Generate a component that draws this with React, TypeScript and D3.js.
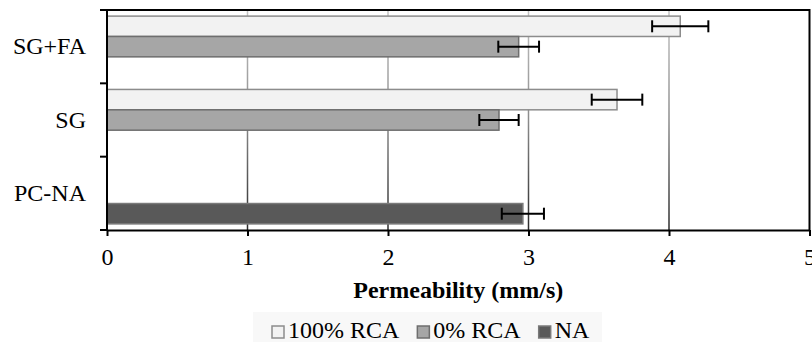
import { useEffect, useRef } from "react";
import * as d3 from "d3";

const W = 812, H = 342;
const M = { top: 10, right: 3, bottom: 112, left: 107 };
const X0 = M.left, X1 = 809.5, Y0 = M.top, Y1 = 230;
const FONT = "'Liberation Serif', 'Times New Roman', serif";
const FS = 24;

const CATEGORIES = ["SG+FA", "SG", "PC-NA"];
const SERIES = ["100% RCA", "0% RCA", "NA"];
// values per category, order as SERIES (null = no bar)
const VALUES: (number | null)[][] = [
  [4.08, 2.93, null],
  [3.63, 2.79, null],
  [null, null, 2.96],
];
const ERRORS: (number | null)[][] = [
  [0.2, 0.145, null],
  [0.18, 0.14, null],
  [null, null, 0.15],
];
const X_TICKS = [0, 1, 2, 3, 4, 5];
const FILLS = ["#f2f2f2", "#a6a6a6", "#595959"];
const STROKES = ["#8c8c8c", "#6e6e6e", "#7a7a7a"];

export default function App() {
  const ref = useRef<SVGSVGElement>(null);

  useEffect(() => {
    const svg = d3.select(ref.current);
    svg.selectAll("*").remove();

    const x = d3.scaleLinear().domain([0, 5]).range([X0, X1]);
    const y = d3.scaleBand<string>().domain(CATEGORIES).range([Y0, Y1]).paddingInner(0).paddingOuter(0);
    const ys = d3.scaleBand<string>().domain(SERIES).range([0, y.bandwidth()]).paddingInner(0).paddingOuter(0.3);

    const defs = svg.append("defs");
    const grad = defs.append("linearGradient").attr("id", "gridGrad")
      .attr("gradientUnits", "userSpaceOnUse")
      .attr("x1", 0).attr("y1", Y0).attr("x2", 0).attr("y2", Y1);
    grad.append("stop").attr("offset", "0%").attr("stop-color", "#c4c4c4");
    grad.append("stop").attr("offset", "50%").attr("stop-color", "#8c8c8c");
    grad.append("stop").attr("offset", "100%").attr("stop-color", "#2a2a2a");

    // gridlines
    svg.append("g").selectAll("line").data(X_TICKS.slice(1, -1)).join("line")
      .attr("x1", d => x(d)).attr("x2", d => x(d))
      .attr("y1", Y0).attr("y2", Y1)
      .attr("stroke", "url(#gridGrad)").attr("stroke-width", 1.5);

    // bars
    const rows = CATEGORIES.flatMap((c, ci) => SERIES.map((s, si) => ({
      c, s, si, v: VALUES[ci][si], e: ERRORS[ci][si],
    }))).filter(d => d.v != null) as { c: string; s: string; si: number; v: number; e: number }[];

    svg.append("g").selectAll("rect").data(rows).join("rect")
      .attr("x", x(0)).attr("y", d => y(d.c)! + ys(d.s)!)
      .attr("width", d => x(d.v) - x(0)).attr("height", ys.bandwidth())
      .attr("fill", d => FILLS[d.si]).attr("stroke", d => STROKES[d.si]).attr("stroke-width", 1.5);

    // error bars
    const eb = svg.append("g").attr("stroke", "#000").attr("stroke-width", 2);
    rows.forEach(d => {
      const cy = y(d.c)! + ys(d.s)! + ys.bandwidth() / 2;
      const a = x(d.v - d.e), b = x(d.v + d.e);
      eb.append("line").attr("x1", a).attr("x2", b).attr("y1", cy).attr("y2", cy);
      eb.append("line").attr("x1", a).attr("x2", a).attr("y1", cy - 6).attr("y2", cy + 6);
      eb.append("line").attr("x1", b).attr("x2", b).attr("y1", cy - 6).attr("y2", cy + 6);
    });

    // frame: top + right
    svg.append("path").attr("d", `M${X0},${Y0}H${X1}V${Y1}`)
      .attr("fill", "none").attr("stroke", "#000").attr("stroke-width", 2);

    // bottom axis
    const xa = svg.append("g").attr("transform", `translate(0,${Y1})`)
      .call(d3.axisBottom(x).tickValues(X_TICKS).tickSize(6).tickSizeOuter(0).tickFormat(d3.format("d")));
    xa.select(".domain").attr("stroke", "#000").attr("stroke-width", 2);
    xa.selectAll(".tick line").attr("stroke", "#000").attr("stroke-width", 2);
    xa.selectAll(".tick text").attr("font-family", FONT).attr("font-size", FS).attr("fill", "#000")
      .attr("dy", null).attr("y", 35);

    // left axis: ticks at band boundaries
    const ya = svg.append("g");
    ya.append("line").attr("x1", X0).attr("x2", X0).attr("y1", Y0 - 1).attr("y2", Y1 + 1)
      .attr("stroke", "#000").attr("stroke-width", 2);
    const bounds = [...CATEGORIES.map(c => y(c)!), Y1];
    ya.selectAll("line.tk").data(bounds).join("line").attr("class", "tk")
      .attr("x1", X0 - 7).attr("x2", X0).attr("y1", d => d).attr("y2", d => d)
      .attr("stroke", "#000").attr("stroke-width", 2);
    ya.selectAll("text").data(CATEGORIES).join("text")
      .attr("x", 86).attr("y", d => y(d)! + y.bandwidth() / 2 + 7.5)
      .attr("text-anchor", "end").attr("font-family", FONT).attr("font-size", FS).attr("fill", "#000")
      .text(d => d);

    // axis title
    svg.append("text").attr("x", (X0 + X1) / 2).attr("y", 298)
      .attr("text-anchor", "middle").attr("font-family", FONT).attr("font-size", FS)
      .attr("font-weight", "bold").attr("fill", "#000").text("Permeability (mm/s)");

    // legend
    const lg = svg.append("g");
    lg.append("rect").attr("x", 253).attr("y", 312).attr("width", 349).attr("height", 32).attr("fill", "#f8f8f8");
    let lx = 272;
    SERIES.forEach((s, i) => {
      lg.append("rect").attr("x", lx).attr("y", 326).attr("width", 12).attr("height", 12)
        .attr("fill", FILLS[i]).attr("stroke", STROKES[i]).attr("stroke-width", 1.5);
      const t = lg.append("text").attr("x", lx + 16).attr("y", 338)
        .attr("font-family", FONT).attr("font-size", FS).attr("fill", "#000").text(s);
      const w = (t.node() as SVGTextElement).getComputedTextLength();
      lx += 16 + w + 18;
    });
  }, []);

  return (
    <svg ref={ref} width={W} height={H}
      style={{ position: "absolute", left: 0, top: 0, background: "#fff", display: "block" }} />
  );
}
